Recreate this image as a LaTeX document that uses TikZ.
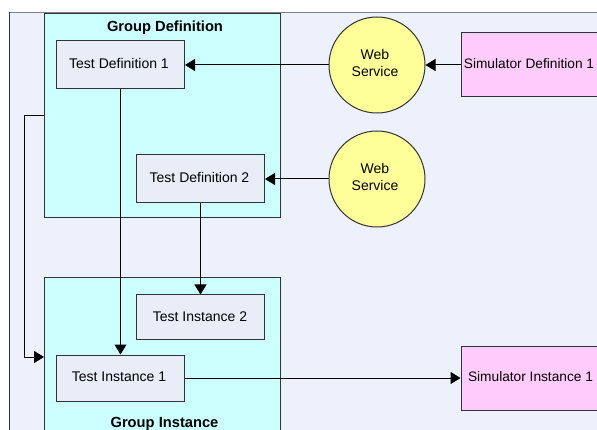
\documentclass[tikz,border=0pt]{standalone}
\usepackage{fontspec}
\setmainfont{Liberation Sans}
\usetikzlibrary{arrows.meta}
\definecolor{bgc}{HTML}{EDF1FB}
\definecolor{grpc}{HTML}{CCFFFF}
\definecolor{boxc}{HTML}{E8EDF8}
\definecolor{simc}{HTML}{FFCCFB}
\definecolor{wsc}{HTML}{FFFF99}
\definecolor{linec}{HTML}{333333}
\newcommand{\lifted}[3][2pt]{\hspace*{#2}\raisebox{#1}[\height][\depth]{#3}}
\tikzset{
  x=1pt,y=-1pt,
  every node/.style={inner sep=0pt,font=\fontsize{14}{17}\selectfont,text=black},
  grp/.style={draw=linec,line width=1pt,fill=grpc,minimum width=236pt},
  tbox/.style={draw=linec,line width=1pt,fill=boxc,minimum width=128pt},
  sim/.style={draw=linec,line width=1pt,fill=simc,minimum width=140pt,minimum height=64pt,font=\fontsize{13.7}{17}\selectfont},
  ws/.style={draw=linec,line width=1pt,fill=wsc,circle,minimum size=96pt},
  lbl/.style={font=\fontsize{14.7}{17}\selectfont\bfseries},
  conn/.style={draw=black,line width=1pt,-{Triangle[length=10pt,width=12pt]}}
}
\begin{document}
\begin{tikzpicture}
\useasboundingbox (0,0) rectangle (597,430);
\clip (0,0) rectangle (597,430);
\fill[white] (0,0) rectangle (597,430);
\fill[bgc] (9.5,12.5) rectangle (597,430);
\draw[gray,line width=1pt] (9.5,12.5) -- (597,12.5);
\draw[linec,line width=1pt] (9.5,12.5) -- (9.5,430);
\node[grp,minimum height=204pt] (gd) at (162.5,116) {};
\node[grp,minimum height=158pt] (gi) at (162.5,357) {};
\node[lbl] (gdl) at (165,28) {Group Definition};
\node[lbl] (gil) at (164.5,423.5) {Group Instance};
\node[tbox,minimum height=48pt] (td1) at (120.5,65) {\lifted{-3pt}{Test Definition 1}};
\node[tbox,minimum height=48pt] (td2) at (200.5,179) {\lifted{-2pt}{Test Definition 2}};
\node[tbox,minimum height=44pt] (ti2) at (200.5,317) {\lifted[0.5pt]{-1pt}{Test Instance 2}};
\node[tbox,minimum height=46pt] (ti1) at (120.5,378) {\lifted[1pt]{-3pt}{Test Instance 1}};
\node[ws] (w1) at (377,65) {\lifted[0pt]{-4pt}{\begin{tabular}{@{}c@{}}Web\\Service\end{tabular}}};
\node[ws] (w2) at (377,179) {\lifted[0pt]{-4pt}{\begin{tabular}{@{}c@{}}Web\\Service\end{tabular}}};
\node[sim] (sd) at (531,65) {\lifted[1pt]{-4pt}{Simulator Definition 1}};
\node[sim] (si) at (531,378) {\lifted[1pt]{-1pt}{Simulator Instance 1}};
\draw[conn] (w1.west) -- (td1.east);
\draw[conn] (w2.west) -- (td2.east);
\draw[conn] (sd.west) -- (w1.east);
\draw[conn] (td1.south) -- (ti1.north);
\draw[conn] (td2.south) -- (ti2.north);
\draw[conn] (ti1.east) -- (si.west);
\draw[conn] (gd.west) -- ++(-20,0) |- (gi.west);
\end{tikzpicture}
\end{document}
